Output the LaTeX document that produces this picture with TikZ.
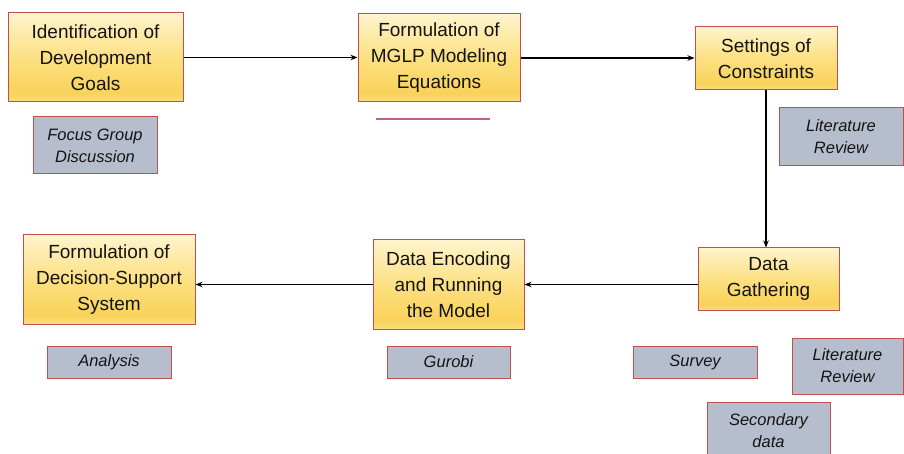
\documentclass[tikz,border=0pt]{standalone}
\usepackage{fontspec}
\setmainfont{Liberation Sans}
\usetikzlibrary{arrows.meta,calc}

\definecolor{edgered}{RGB}{192,80,77}
\definecolor{notegray}{RGB}{182,190,206}
\definecolor{goldtop}{RGB}{255,244,205}
\definecolor{goldmid}{RGB}{252,224,130}
\definecolor{golddark}{RGB}{249,210,90}
\definecolor{goldedge}{RGB}{251,222,128}
\definecolor{stubred}{RGB}{190,100,120}
\definecolor{textdark}{RGB}{20,20,20}

% pale cream at the top, deep gold towards the bottom
\pgfdeclareverticalshading{stepgold}{100bp}{%
  color(0bp)=(goldedge); color(25bp)=(goldedge);
  color(30bp)=(golddark); color(50bp)=(goldmid);
  color(75bp)=(goldtop); color(100bp)=(goldtop)}

\tikzset{
  stepbox/.style={draw=edgered, line width=1pt, shading=stepgold,
    align=center, inner sep=2pt, text=textdark,
    font=\fontsize{19}{26}\selectfont},
  notebox/.style={draw=edgered, line width=1pt, fill=notegray,
    align=center, inner sep=2pt, text=textdark,
    font=\fontsize{16.5}{22}\selectfont\itshape},
  flow/.style={line width=1.6pt, -{Stealth[length=7pt,width=5.5pt]}},
}

\begin{document}
\begin{tikzpicture}[x=1pt,y=-1pt]
  \useasboundingbox (0,0) rectangle (904,454);
  \clip (0,0) rectangle (904,454);

  % process steps
  \node[stepbox, minimum width=175, minimum height=89] (goals) at (95.5,57.5)
    {Identification of\\Development\\Goals};
  \node[stepbox, minimum width=162, minimum height=88] (mglp) at (439,58)
    {Formulation of\\MGLP Modeling\\Equations};
  \node[stepbox, minimum width=142, minimum height=63] (constr) at (766,58.5)
    {Settings of\\Constraints};
  \node[stepbox, minimum width=141, minimum height=62] (gather) at (768.5,279)
    {Data\\Gathering};
  \node[stepbox, minimum width=151, minimum height=89] (encode) at (448.5,284.5)
    {Data Encoding\\and Running\\the Model};
  \node[stepbox, minimum width=172, minimum height=89] (dss) at (109,279.5)
    {Formulation of\\Decision-Support\\System};

  % methods used in each step
  \node[notebox, minimum width=124, minimum height=57] (fgd) at (95,145.5)
    {Focus Group\\Discussion};
  \node[notebox, minimum width=124, minimum height=58] (litA) at (841,137)
    {Literature\\Review};
  \node[notebox, minimum width=124, minimum height=32] (analysis) at (109,362)
    {Analysis};
  \node[notebox, minimum width=123, minimum height=32] (gurobi) at (448.5,362)
    {Gurobi};
  \node[notebox, minimum width=124, minimum height=32] (survey) at (695,362)
    {Survey};
  \node[notebox, minimum width=111, minimum height=56] (litB) at (847.5,366)
    {Literature\\Review};
  \node[notebox, minimum width=123, minimum height=58] (secdata) at (768.5,431)
    {Secondary\\data};

  % thin rule under the modeling step
  \coordinate (stubL) at (376,119);
  \coordinate (stubR) at (490,119);
  \draw[stubred, line width=2pt] (stubL) -- (stubR);

  % flow between the steps
  \draw[flow] (goals.east) -- (goals.east -| mglp.west);
  \draw[flow] (mglp.east) -- (mglp.east -| constr.west);
  \draw[flow] (constr.south) -- (constr.south |- gather.north);
  \draw[flow] (gather.west |- encode.east) -- (encode.east);
  \draw[flow] (encode.west) -- (encode.west -| dss.east);
\end{tikzpicture}
\end{document}
